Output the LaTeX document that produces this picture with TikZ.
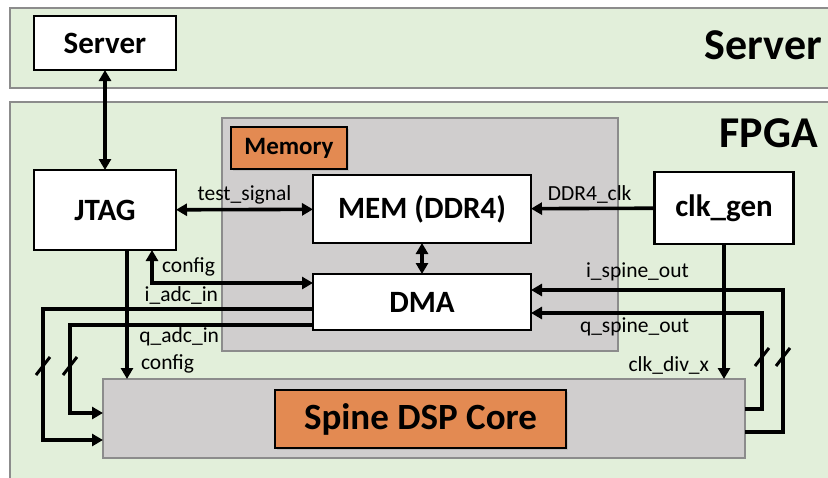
\documentclass[tikz,border=0pt]{standalone}
\usepackage{fontspec}
\setmainfont{Carlito}
\usetikzlibrary{arrows.meta,positioning,calc,shadows}
\definecolor{band}{HTML}{E2EFDA}
\definecolor{bandline}{HTML}{8C8C8C}
\definecolor{grey}{HTML}{D0CECE}
\definecolor{orange}{HTML}{E38A52}

\begin{document}
\begin{tikzpicture}[x=1pt,y=-1pt,
  every node/.style={inner sep=0pt,outer sep=0pt},
  blk/.style={draw=black,line width=2.2pt,fill=white,font=\fontsize{31}{36}\selectfont\bfseries},
  tag/.style={draw=black,line width=1.2pt,fill=orange,drop shadow={opacity=0.25,shadow xshift=2pt,shadow yshift=-2pt}},
  lbl/.style={font=\fontsize{21.5}{24}\selectfont},
  title/.style={font=\fontsize{44}{48}\selectfont\bfseries},
  arr/.style={-{Triangle[length=11pt,width=12pt]},line width=3.6pt},
  dbl/.style={{Triangle[length=11pt,width=12pt]}-{Triangle[length=11pt,width=12pt]},line width=3.6pt},
  bus/.style={line width=3pt}
]
\useasboundingbox (0,0) rectangle (828,477);
% bands
\draw[bandline,line width=1.5pt,fill=band] (10,8) rectangle (840,88);
\draw[bandline,line width=1.5pt,fill=band] (10,102) rectangle (840,490);
\node[title,anchor=east] (srvtitle) at (822,45) {Server};
\node[title,anchor=east] (fpgatitle) at (818,133) {FPGA};

% memory group
\draw[bandline,line width=1.5pt,fill=grey] (222,118) rectangle (618,351);
\node[tag,minimum width=116pt,minimum height=42pt,font=\fontsize{25}{28}\selectfont\bfseries]
  (memtag) at (289,148) {Memory};

% blocks
\node[blk,minimum width=142pt,minimum height=54pt] (server) at (105,43) {Server};
\node[blk,minimum width=142pt,minimum height=80pt] (jtag) at (105,210) {JTAG};
\node[blk,minimum width=218pt,minimum height=68pt] (mem) at (422,209) {MEM (DDR4)};
\node[blk,minimum width=218pt,minimum height=56pt] (dma) at (422,302) {DMA};
\node[blk,minimum width=139pt,minimum height=72pt] (clkgen) at (724,208) {clk\_gen};
\node[draw=bandline,line width=1.5pt,fill=grey,minimum width=642pt,minimum height=79pt]
  (dsp) at (424,418.5) {};
\node[tag,minimum width=291pt,minimum height=58pt,font=\fontsize{37}{40}\selectfont\bfseries]
  (dsptag) at (420.5,419) {Spine DSP Core};

% connectors
\coordinate (cfgsrc) at ($(jtag.south)+(22,0)$);
\draw[dbl] (server) -- (jtag);
\draw[dbl] (jtag) -- node[lbl,above=5pt] (tslbl) {test\_signal} (mem);
\draw[arr] (clkgen) -- node[lbl,above=5pt,xshift=-3pt] (ddrlbl) {DDR4\_clk} (mem);
\draw[dbl] (mem) -- (dma);
\draw[dbl] ($(dma.west)+(0,-19)$) -| ($(jtag.south)+(47,0)$);
\draw[arr] (cfgsrc) -- (cfgsrc |- dsp.north);
\draw[arr] ($(dma.west)+(0,7)$) -| ($(dsp.west)+(-60,21.5)$) -- ($(dsp.west)+(0,21.5)$);
\draw[arr] ($(dma.west)+(0,23)$) -| ($(dsp.west)+(-33,-5.5)$) -- ($(dsp.west)+(0,-5.5)$);
\draw[arr] ($(dsp.east)+(0,13.5)$) -| ($(dma.east)+(252,-12)$) -- ($(dma.east)+(0,-12)$);
\draw[arr] ($(dsp.east)+(0,-9.5)$) -| ($(dma.east)+(231,11)$) -- ($(dma.east)+(0,11)$);
\draw[arr] (clkgen.south) -- (clkgen.south |- dsp.north);

% bus width marks
\foreach \bx/\by in {43/366,70/366,762/357,783/357}
  \draw[bus] ($(\bx,\by)+(-7,9)$) -- ($(\bx,\by)+(7,-9)$);

% labels
\node[lbl,anchor=west] (cfgup) at (162,267) {config};
\node[lbl,anchor=east] (iadc) at (218,295) {i\_adc\_in};
\node[lbl,anchor=east] (qadc) at (219,337) {q\_adc\_in};
\node[lbl,anchor=west] (cfgdn) at (141,364) {config};
\node[lbl,anchor=west] (ispine) at (586,272) {i\_spine\_out};
\node[lbl,anchor=west] (qspine) at (580,327) {q\_spine\_out};
\node[lbl,anchor=east] (clkdiv) at (709,365) {clk\_div\_x};
\end{tikzpicture}
\end{document}
